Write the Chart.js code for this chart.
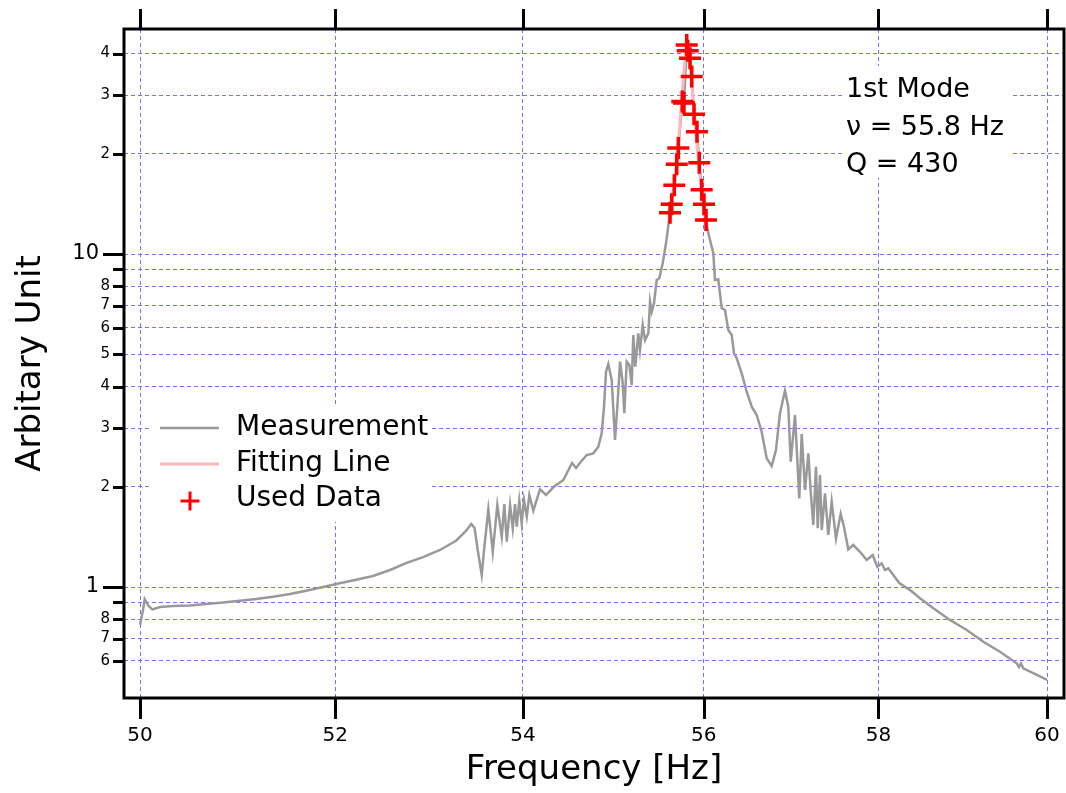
<!DOCTYPE html>
<html>
<head>
<meta charset="utf-8">
<script src="https://cdn.jsdelivr.net/npm/chart.js@4.4.1/dist/chart.umd.min.js"></script>
<style>
  html, body { margin: 0; padding: 0; background: #ffffff; }
  canvas { display: block; }
</style>
</head>
<body>
<canvas id="c" width="1066" height="793"></canvas>
<script>
// ---------------- data ----------------
const measFreq = [
  50.000, 50.030, 50.047, 50.085, 50.124, 50.201, 50.333, 50.505, 50.668, 50.841,
  51.015, 51.180, 51.355, 51.531, 51.697, 51.853, 52.009, 52.208, 52.397, 52.577,
  52.746, 52.927, 53.108, 53.279, 53.375, 53.443, 53.478, 53.515, 53.555, 53.580,
  53.626, 53.674, 53.723, 53.771, 53.799, 53.825, 53.861, 53.890, 53.915, 53.933,
  53.961, 53.987, 54.012, 54.042, 54.070, 54.113, 54.186, 54.252, 54.331, 54.441,
  54.536, 54.580, 54.624, 54.697, 54.770, 54.825, 54.862, 54.888, 54.910, 54.935,
  54.973, 55.009, 55.035, 55.065, 55.095, 55.112, 55.139, 55.168, 55.194, 55.212,
  55.234, 55.267, 55.286, 55.316, 55.342, 55.379, 55.398, 55.417, 55.442, 55.472,
  55.501, 55.539, 55.576, 55.621, 55.640, 55.669, 55.696, 55.714, 55.758, 55.777,
  55.808, 55.819, 55.845, 55.864, 55.890, 55.923, 55.949, 55.976, 56.002, 56.025,
  56.051, 56.107, 56.126, 56.163, 56.202, 56.239, 56.276, 56.315, 56.341, 56.371,
  56.428, 56.485, 56.542, 56.598, 56.655, 56.712, 56.769, 56.818, 56.864, 56.921,
  56.959, 56.987, 57.036, 57.085, 57.113, 57.151, 57.189, 57.216, 57.246, 57.277,
  57.297, 57.323, 57.343, 57.381, 57.419, 57.458, 57.508, 57.562, 57.600, 57.650,
  57.708, 57.786, 57.864, 57.934, 57.987, 58.039, 58.077, 58.116, 58.174, 58.244,
  58.370, 58.487, 58.644, 58.841, 59.039, 59.236, 59.435, 59.635, 59.663, 59.687,
  59.714, 59.834, 60.000
];
const measAmp = [
  0.770, 0.853, 0.919, 0.877, 0.857, 0.871, 0.877, 0.880, 0.889, 0.898,
  0.910, 0.920, 0.935, 0.953, 0.975, 0.997, 1.021, 1.050, 1.079, 1.125,
  1.180, 1.230, 1.292, 1.377, 1.463, 1.546, 1.504, 1.274, 1.087, 1.292,
  1.712, 1.276, 1.763, 1.416, 1.775, 1.368, 1.763, 1.501, 1.775, 1.517,
  1.816, 1.554, 1.825, 1.626, 1.889, 1.695, 1.965, 1.889, 1.993, 2.096,
  2.357, 2.277, 2.362, 2.491, 2.520, 2.638, 2.894, 3.478, 4.431, 4.674,
  4.183, 2.764, 3.478, 4.749, 4.089, 3.324, 4.749, 4.642, 4.042, 5.710,
  4.587, 5.778, 5.148, 6.120, 5.515, 5.778, 7.191, 6.710, 7.112, 8.354,
  8.453, 9.378, 10.77, 13.3, 14.1, 16.1, 18.6, 20.8, 28.7, 28.4,
  42.4, 40.8, 38.7, 34.1, 26.3, 23.3, 18.8, 15.6, 14.1, 12.65,
  11.54, 10.05, 8.354, 8.395, 6.870, 6.790, 5.913, 5.710, 5.032, 4.872,
  4.381, 3.859, 3.478, 3.285, 2.927, 2.435, 2.309, 2.578, 3.324, 3.886,
  3.478, 2.378, 3.285, 1.846, 2.881, 1.956, 2.520, 1.933, 1.536, 2.297,
  1.501, 2.169, 1.483, 1.911, 1.433, 1.804, 1.400, 1.657, 1.517, 1.298,
  1.337, 1.276, 1.205, 1.248, 1.151, 1.178, 1.125, 1.138, 1.087, 1.028,
  0.979, 0.925, 0.863, 0.796, 0.743, 0.685, 0.639, 0.590, 0.575, 0.589,
  0.570, 0.551, 0.526
];
const fitFreq = [55.61, 55.65, 55.69, 55.72, 55.75, 55.78, 55.80, 55.82, 55.84, 55.87, 55.90, 55.93, 55.96, 55.99, 56.03];
const fitAmp  = [12.9, 15.0, 18.2, 22.5, 28.5, 36.0, 41.5, 42.5, 38.5, 31.5, 25.0, 20.5, 16.8, 14.3, 12.2];
const usedFreq = [55.621, 55.640, 55.669, 55.696, 55.714, 55.758, 55.777, 55.808, 55.819, 55.845, 55.864, 55.890, 55.923, 55.949, 55.976, 56.002, 56.025];
const usedAmp  = [13.3, 14.1, 16.1, 18.6, 20.8, 28.7, 28.4, 42.4, 40.8, 38.7, 34.1, 26.3, 23.3, 18.8, 15.6, 14.1, 12.65];

const xTickValues = [50, 52, 54, 56, 58, 60];
const xTickLabels = ['50', '52', '54', '56', '58', '60'];
const yTickValues = [0.6, 0.7, 0.8, 0.9, 1, 2, 3, 4, 5, 6, 7, 8, 9, 10, 20, 30, 40];
const yTickLabels = ['6', '7', '8', '', '', '2', '3', '4', '5', '6', '7', '8', '', '', '2', '3', '4'];
const yMajorValues = [1, 10];
const yMajorLabels = ['1', '10'];
const annotationLines = ['1st Mode', 'ν = 55.8 Hz', 'Q = 430'];

const xMin = 49.839, xMax = 60.205;
const yMin = 0.4642, yMax = 47.39;

// ---------------- styling ----------------
const FONT = 'DejaVu Sans';
Chart.defaults.font.family = FONT;
Chart.defaults.color = '#000';
const gridColor = '#7272ff';
const gridDash = [4, 3];

const toPts = (xs, ys) => xs.map((x, i) => ({ x: x, y: ys[i] }));
const noPad = s => { s.paddingLeft = 0; s.paddingRight = 0; s.paddingTop = 0; s.paddingBottom = 0; };

const decor = {
  id: 'decor',
  afterLayout(chart) {
    const s = chart.scales.yMajor;
    s.left = 0;
    s.right = chart.chartArea.left;
  },
  beforeDatasetsDraw(chart) {
    const ctx = chart.ctx;
    ctx.save();
    ctx.fillStyle = '#ffffff';
    ctx.fillRect(152, 407, 280, 115);   // legend background
    ctx.fillRect(845, 66, 165, 112);    // annotation background
    ctx.restore();
  },
  afterDraw(chart) {
    const ctx = chart.ctx;
    const ca = chart.chartArea;
    const xs = chart.scales.x, ys = chart.scales.y;
    ctx.save();
    ctx.strokeStyle = '#000';
    ctx.lineWidth = 3;
    ctx.lineCap = 'butt';
    const line = (x1, y1, x2, y2) => { ctx.beginPath(); ctx.moveTo(x1, y1); ctx.lineTo(x2, y2); ctx.stroke(); };
    // x tick marks (bottom and top, outside)
    xTickValues.forEach(v => {
      const px = Math.round(xs.getPixelForValue(v)) + 0.5;
      line(px, ca.bottom, px, ca.bottom + 21);
      line(px, ca.top - 20, px, ca.top);
    });
    // y tick marks (left, outside)
    yTickValues.forEach(v => {
      const py = Math.round(ys.getPixelForValue(v)) + 0.5;
      const len = yMajorValues.includes(v) ? 21 : 11;
      line(ca.left - len, py, ca.left, py);
    });
    // frame
    ctx.strokeRect(ca.left, ca.top, ca.right - ca.left, ca.bottom - ca.top);

    // legend
    const ds = chart.data.datasets;
    ctx.lineWidth = 2.5; ctx.strokeStyle = ds[2].borderColor;
    line(160, 428, 219, 428);
    ctx.lineWidth = 3; ctx.strokeStyle = ds[1].borderColor;
    line(160, 464, 219, 464);
    ctx.lineWidth = 3; ctx.strokeStyle = ds[0].pointBorderColor;
    line(180.5, 501, 199.5, 501);
    line(190, 491.5, 190, 510.5);
    ctx.fillStyle = '#000';
    ctx.font = '28px "' + FONT + '"';
    ctx.textBaseline = 'middle';
    ctx.textAlign = 'left';
    ctx.fillText(ds[2].label, 236, 428);
    ctx.fillText(ds[1].label, 236, 464);
    ctx.fillText(ds[0].label, 236, 499);

    // annotation
    ctx.font = '27px "' + FONT + '"';
    ctx.textBaseline = 'alphabetic';
    const baseY = [97, 135, 172];
    annotationLines.forEach((t, i) => ctx.fillText(t, 846, baseY[i]));
    ctx.restore();
  }
};

new Chart(document.getElementById('c'), {
  type: 'scatter',
  data: {
    datasets: [
      {
        label: 'Used Data',
        data: toPts(usedFreq, usedAmp),
        showLine: false,
        pointStyle: 'cross',
        pointRadius: 11,
        pointBorderWidth: 3.5,
        borderWidth: 3.5,
        borderColor: '#ff0000',
        pointBorderColor: '#ff0000',
        backgroundColor: '#ff0000',
        order: 0
      },
      {
        label: 'Fitting Line',
        data: toPts(fitFreq, fitAmp),
        showLine: true,
        borderColor: '#ffb8b8',
        borderWidth: 3,
        pointRadius: 0,
        tension: 0,
        order: 1
      },
      {
        label: 'Measurement',
        data: toPts(measFreq, measAmp),
        showLine: true,
        borderColor: '#999999',
        borderWidth: 2.5,
        pointRadius: 0,
        tension: 0,
        order: 2
      }
    ]
  },
  options: {
    responsive: false,
    devicePixelRatio: 1,
    animation: false,
    events: [],
    layout: { autoPadding: false, padding: { top: 29, right: 2, left: 0, bottom: 0 } },
    plugins: { legend: { display: false }, tooltip: { enabled: false } },
    scales: {
      x: {
        type: 'logarithmic',
        position: 'bottom',
        min: xMin, max: xMax,
        afterBuildTicks: s => { s.ticks = xTickValues.map(v => ({ value: v })); },
        afterFit: s => { s.height = 95; noPad(s); },
        ticks: {
          callback: (v, i) => xTickLabels[i],
          font: { size: 20 }, color: '#000', padding: 26,
          autoSkip: false, maxRotation: 0, minRotation: 0
        },
        grid: { color: gridColor, lineWidth: 1, drawTicks: false },
        border: { display: false, dash: gridDash },
        title: { display: true, text: 'Frequency [Hz]', font: { size: 34 }, color: '#000', padding: { top: 0, bottom: 2 } }
      },
      y: {
        type: 'logarithmic',
        position: 'left',
        min: yMin, max: yMax,
        afterBuildTicks: s => { s.ticks = yTickValues.map(v => ({ value: v })); },
        afterFit: s => { s.width = 124; noPad(s); },
        ticks: {
          callback: (v, i) => yTickLabels[i],
          font: { size: 15 }, color: '#000', padding: 14, autoSkip: false
        },
        grid: { color: gridColor, lineWidth: 1, drawTicks: false },
        border: { display: false, dash: gridDash },
        title: { display: true, text: 'Arbitary Unit', font: { size: 34 }, color: '#000', padding: { top: 11, bottom: 0 } }
      },
      yMajor: {
        type: 'logarithmic',
        position: 'left',
        min: yMin, max: yMax,
        afterBuildTicks: s => { s.ticks = yMajorValues.map(v => ({ value: v })); },
        afterFit: s => { s.width = 0; noPad(s); },
        ticks: {
          callback: (v, i) => yMajorLabels[i],
          font: { size: 21 }, color: '#000', padding: 25, autoSkip: false
        },
        grid: { display: false, drawTicks: false },
        border: { display: false }
      }
    }
  },
  plugins: [decor]
});
</script>
</body>
</html>
